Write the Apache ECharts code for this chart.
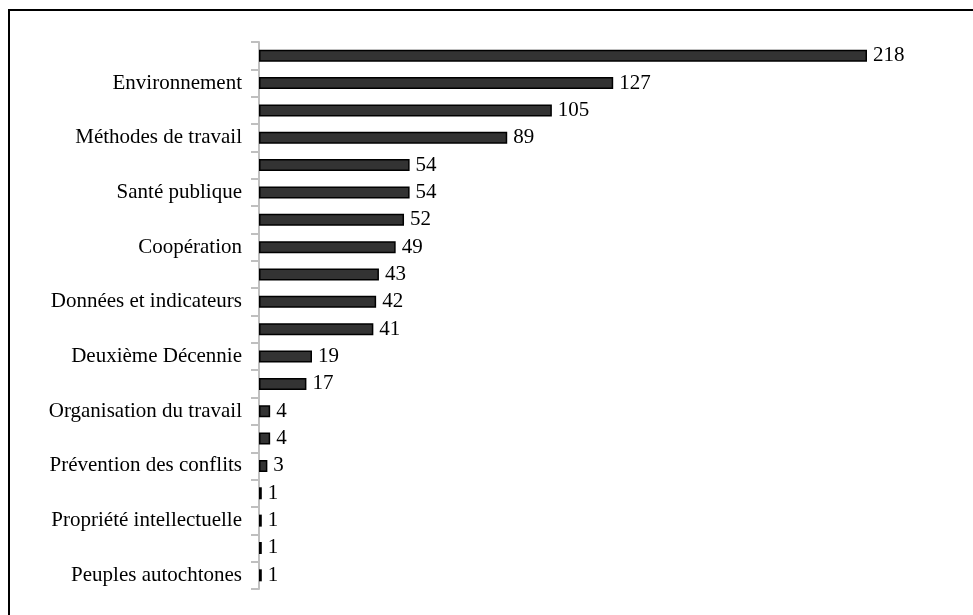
<!DOCTYPE html>
<html>
<head>
<meta charset="utf-8">
<script src="https://cdn.jsdelivr.net/npm/echarts@6/dist/echarts.min.js"></script>
<style>
  html, body { margin: 0; padding: 0; background: #fff; }
  #chart { width: 973px; height: 615px; }
</style>
</head>
<body>
<div id="chart"></div>
<script>
// Topics, top to bottom; only every second name is printed on the axis
const categories = [
  'Développement social', 'Environnement',
  'Droits de l\u2019homme', 'Méthodes de travail',
  'Éducation', 'Santé publique',
  'Emploi', 'Coopération',
  'Égalité des sexes', 'Données et indicateurs',
  'Migrations', 'Deuxième Décennie',
  'Sécurité sociale', 'Organisation du travail',
  'Commerce', 'Prévention des conflits',
  'Désarmement', 'Propriété intellectuelle',
  'Énergie', 'Peuples autochtones'
];
const counts = [218, 127, 105, 89, 54, 54, 52, 49, 43, 42, 41, 19, 17, 4, 4, 3, 1, 1, 1, 1];

const chart = echarts.init(document.getElementById('chart'), null, { renderer: 'canvas' });
const serif = '"Liberation Serif", "Times New Roman", serif';

chart.setOption({
  animation: false,
  backgroundColor: '#ffffff',
  graphic: [{
    type: 'rect',
    shape: { x: 9, y: 10, width: 1200, height: 1200 },
    style: { fill: 'none', stroke: '#000', lineWidth: 2 },
    silent: true
  }],
  grid: { left: 259, top: 42, width: 608, height: 547, containLabel: false },
  xAxis: {
    type: 'value',
    min: 0,
    max: 218,
    show: false
  },
  yAxis: {
    type: 'category',
    data: categories,
    inverse: true,
    axisLine: { show: true, lineStyle: { color: '#bfbfbf', width: 2 } },
    axisTick: { show: true, interval: 0, length: 8, lineStyle: { color: '#bfbfbf', width: 2 } },
    axisLabel: {
      interval: (i) => i % 2 === 1,
      margin: 17,
      color: '#000',
      fontFamily: serif,
      fontSize: 21
    },
    splitLine: { show: false }
  },
  series: [{
    type: 'bar',
    data: counts,
    barWidth: 12,
    itemStyle: { color: '#333333', borderColor: '#000', borderWidth: 1.5 },
    label: {
      show: true,
      position: 'right',
      distance: 6,
      color: '#000',
      fontFamily: serif,
      fontSize: 21
    }
  }]
});
</script>
</body>
</html>
